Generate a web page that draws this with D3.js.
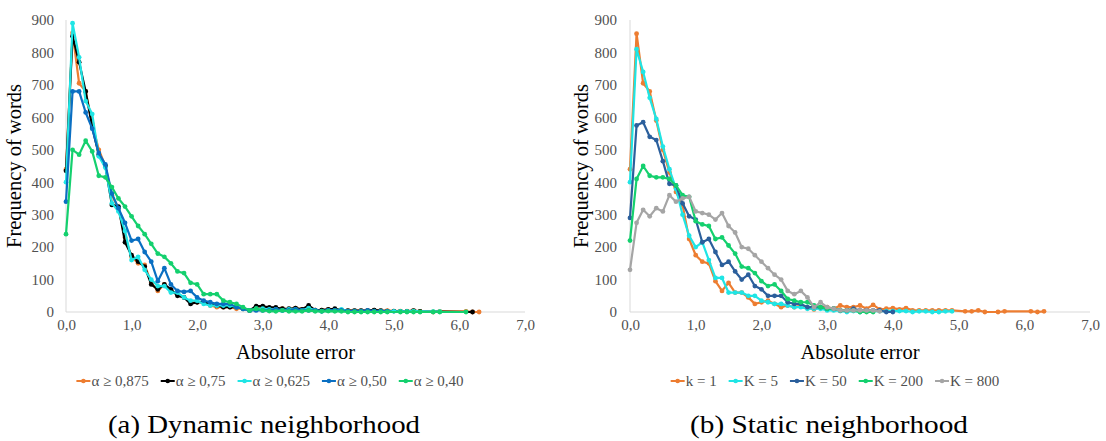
<!DOCTYPE html>
<html><head><meta charset="utf-8">
<script src="https://cdn.jsdelivr.net/npm/d3@7"></script>
<style>body{margin:0;background:#fff}</style>
</head><body><svg id="c" width="1106" height="441"></svg>
<script>
// Shared x categories (absolute error), 0.0 .. 6.3
const absErr = [0.0,0.1,0.2,0.3,0.4,0.5,0.6,0.7,0.8,0.9,
  1.0,1.1,1.2,1.3,1.4,1.5,1.6,1.7,1.8,1.9,
  2.0,2.1,2.2,2.3,2.4,2.5,2.6,2.7,2.8,2.9,
  3.0,3.1,3.2,3.3,3.4,3.5,3.6,3.7,3.8,3.9,
  4.0,4.1,4.2,4.3,4.4,4.5,4.6,4.7,4.8,4.9,
  5.0,5.1,5.2,5.3,5.4,5.5,5.6,5.7,5.8,5.9,
  6.0,6.1,6.2,6.3];
const _ = null;

// (a) Dynamic neighborhood
const a875 = [440,860,705,680,580,500,450,360,320,230,170,150,145,90,65,85,65,55,45,30,30,30,20,15,15,15,10,10,5,15,
  15,12,10,10,8,12,8,15,6,6, 8,8,6,4,4,4,4,6,4,4, _,3,3,4,2,_,0,2,_,_, _,2,0,0];
const a75  = [435,850,770,680,570,485,450,330,325,215,175,155,140,85,70,85,70,50,45,25,30,30,25,20,15,15,15,10,5,18,
  18,14,14,10,10,12,8,20,6,6, 8,10,6,4,4,4,4,6,4,3, 3,2,2,4,2,_,_,_,_,_, _,_,0,_];
const a625 = [400,890,785,650,610,480,445,335,310,250,160,170,130,100,80,80,60,60,45,35,35,25,20,20,20,20,15,10,5,10,
  10,8,8,5,8,8,5,12,5,3, 5,5,8,3,3,3,3,3,3,2, 2,2,2,3,_,_,1,1,_,_, _,_,_,_];
const a50  = [340,680,680,615,565,490,455,365,320,275,220,225,185,155,95,135,85,65,62,65,45,35,30,25,25,25,15,10,5,5,
  5,5,8,5,5,8,5,5,5,2, 5,5,5,3,3,3,5,3,3,2, _,_,_,_,_,_,_,_,_,_, _,_,_,_];
const a40  = [240,500,485,528,495,420,415,385,350,325,295,265,240,210,180,170,150,125,120,90,85,55,55,55,35,30,25,15,5,10,
  5,3,2,5,2,2,2,5,2,2, 3,2,2,0,0,0,0,0,0,0, _,0,0,0,0,_,0,0,_,_, _,0,_,_];

// (b) Static neighborhood
const k1   = [440,858,705,680,590,500,430,370,330,225,175,155,150,95,65,90,60,60,45,25,30,35,25,15,20,15,20,12,8,15,
  15,10,20,15,15,20,10,22,8,10, 12,8,12,5,5,5,5,5,5,5, _,2,2,5,0,_,0,2,_,_, _,2,0,2];
const k5   = [400,810,740,660,595,510,440,380,300,235,200,215,160,105,105,60,60,60,50,50,35,30,25,25,20,15,15,10,10,10,
  5,5,3,0,3,0,3,3,3,3, 3,3,3,0,2,2,0,0,2,2, _,_,_,_,_,_,_,_,_,_, _,_,_,_];
const k50  = [290,575,585,540,530,465,395,390,335,295,285,215,225,185,145,155,125,100,115,80,70,50,50,50,30,25,25,15,15,15,
  10,10,5,5,10,5,5,5,5,0, 0,_,_,_,_,_,_,_,_,_, _,_,_,_,_,_,_,_,_,_, _,_,_,_];
const k200 = [220,410,450,420,415,415,410,390,360,355,280,270,265,225,230,205,180,140,135,120,95,80,85,65,40,35,30,30,20,15,
  10,10,5,5,5,0,0,0,_,_, _,_,_,_,_,_,_,_,_,_, _,_,_,_,_,_,_,_,_,_, _,_,_,_];
const k800 = [130,275,315,295,320,310,360,340,350,355,310,305,300,285,305,265,245,200,195,175,155,135,115,100,65,55,65,45,15,30,
  15,10,5,5,5,5,5,5,2,_, _,_,_,_,_,_,_,_,_,_, _,_,_,_,_,_,_,_,_,_, _,_,_,_];

const namesA = ["α ≥ 0,875","α ≥ 0,75","α ≥ 0,625","α ≥ 0,50","α ≥ 0,40"];
const namesB = ["k = 1","K = 5","K = 50","K = 200","K = 800"];
const yTicks = [0,100,200,300,400,500,600,700,800,900];
const xTicks = [0,1,2,3,4,5,6,7];
const xTickLabels = ["0,0","1,0","2,0","3,0","4,0","5,0","6,0","7,0"];

const colorsA = ["#ED7D31","#000000","#1FE5E5","#0A6FC2","#14D06E"];
const colorsB = ["#ED7D31","#1FE5E5","#2B5F9C","#14D06E","#A5A5A5"];

const svg = d3.select("#c");
svg.append("rect").attr("width",1106).attr("height",441).attr("fill","#fff");
const SERIF = '"Liberation Serif","Times New Roman",Times,serif';

function txt(sel, size, fill){
  return sel.style("font-family",SERIF).style("font-size",size+"px").attr("fill",fill);
}

function panel(o){
  const g = svg.append("g");
  const x = d3.scaleLinear([0,7],[o.x0,o.x1]);
  const y = d3.scaleLinear([0,900],[312,20]);
  g.append("line").attr("x1",x(0)).attr("x2",x(0)).attr("y1",y(900)).attr("y2",y(0)).attr("stroke","#D9D9D9").attr("stroke-width",1);
  g.append("line").attr("x1",x(0)).attr("x2",x(7)).attr("y1",y(0)).attr("y2",y(0)).attr("stroke","#D9D9D9").attr("stroke-width",1);
  const ya = g.append("g").attr("transform",`translate(${x(0)},0)`)
    .call(d3.axisLeft(y).tickValues(yTicks).tickSize(0).tickPadding(o.ypad).tickFormat(d3.format("d")));
  ya.attr("font-family",null).attr("font-size",null);
  ya.select(".domain").remove();
  txt(ya.selectAll("text"),15,"#505050");
  const xa = g.append("g").attr("transform",`translate(0,${y(0)})`)
    .call(d3.axisBottom(x).tickValues(xTicks).tickSize(0).tickPadding(7).tickFormat((d,i)=>xTickLabels[i]));
  xa.attr("font-family",null).attr("font-size",null);
  xa.select(".domain").remove();
  txt(xa.selectAll("text"),15,"#505050");
  txt(g.append("text").attr("transform",`translate(${o.ytx},166) rotate(-90)`).attr("text-anchor","middle"),20.5,"#000")
    .text("Frequency of words");
  txt(g.append("text").attr("x",(x(0)+x(7))/2).attr("y",359).attr("text-anchor","middle"),20.5,"#000")
    .text("Absolute error");
  const line = d3.line().x(d=>x(d.x)).y(d=>y(d.y));
  o.series.forEach((s,i)=>{
    const pts = absErr.map((v,j)=>({x:v,y:s[j]})).filter(d=>d.y!==null);
    g.append("path").datum(pts).attr("d",line).attr("fill","none").attr("stroke",o.colors[i])
      .attr("stroke-width",2.2).attr("stroke-linejoin","round");
    g.append("g").selectAll("circle").data(pts).join("circle")
      .attr("cx",d=>x(d.x)).attr("cy",d=>y(d.y)).attr("r",2.4).attr("fill",o.colors[i]);
  });
  const lg = g.append("g");
  let cx = 0;
  o.names.forEach((n,i)=>{
    const it = lg.append("g").attr("transform",`translate(${cx},0)`);
    it.append("line").attr("x1",0).attr("x2",14).attr("y1",-5).attr("y2",-5).attr("stroke",o.colors[i]).attr("stroke-width",2);
    it.append("circle").attr("cx",7).attr("cy",-5).attr("r",2.3).attr("fill",o.colors[i]);
    const t = txt(it.append("text").attr("x",15).attr("y",0),15,"#505050").text(n);
    cx += 15 + t.node().getComputedTextLength() + 12;
  });
  const total = cx - 12;
  lg.attr("transform",`translate(${o.legendCx - total/2},386)`);
  const cap = txt(g.append("text").attr("x",o.capCx).attr("y",433).attr("text-anchor","middle"),26,"#000").text(o.caption);
  cap.attr("textLength",o.capW).attr("lengthAdjust","spacingAndGlyphs");
}

panel({x0:66,x1:525,ypad:12,ytx:21,legendCx:270,capCx:264,capW:312,caption:"(a) Dynamic neighborhood",
  series:[a875,a75,a625,a50,a40],colors:colorsA,names:namesA});
panel({x0:630,x1:1090,ypad:13,ytx:588,legendCx:835,capCx:829,capW:278,caption:"(b) Static neighborhood",
  series:[k1,k5,k50,k200,k800],colors:colorsB,names:namesB});
</script></body></html>
